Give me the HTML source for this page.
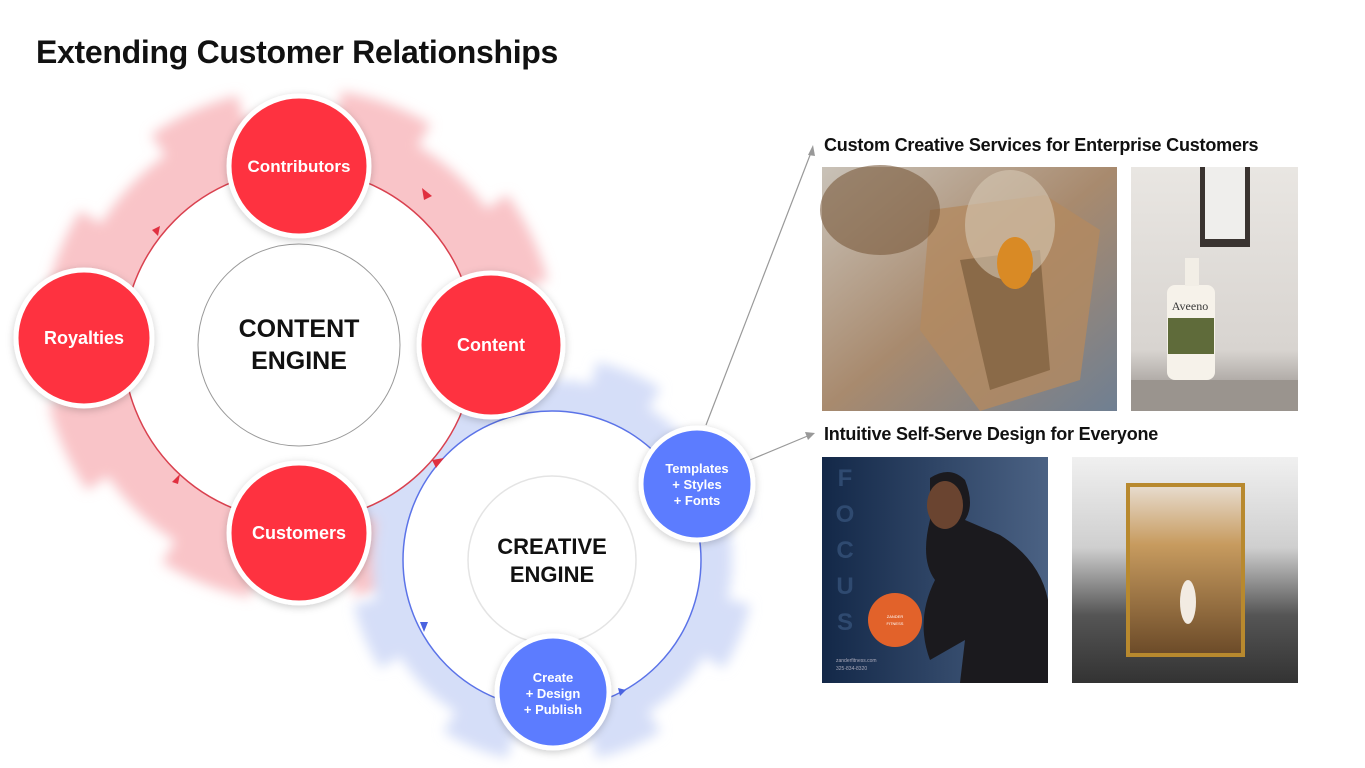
<!DOCTYPE html>
<html><head><meta charset="utf-8"><style>
body{margin:0;width:1365px;height:768px;background:#fff;position:relative;overflow:hidden;font-family:"Liberation Sans",sans-serif}
.t{position:absolute;font-weight:bold;color:#111}
</style></head><body>
<div class="t" style="left:36px;top:34px;font-size:32px;letter-spacing:-0.3px">Extending Customer Relationships</div>
<div class="t" style="left:824px;top:135px;font-size:18px;letter-spacing:-0.2px">Custom Creative Services for Enterprise Customers</div>
<div class="t" style="left:824px;top:424px;font-size:18px;letter-spacing:-0.2px">Intuitive Self-Serve Design for Everyone</div>
<svg width="1365" height="768" style="position:absolute;left:0;top:0">
<defs>
<filter id="b" x="-20%" y="-20%" width="140%" height="140%"><feGaussianBlur stdDeviation="6"/></filter>
<filter id="s" x="-30%" y="-30%" width="160%" height="160%"><feDropShadow dx="0" dy="2" stdDeviation="4" flood-color="#000" flood-opacity="0.2"/></filter>
<linearGradient id="g1" x1="0" y1="0" x2="1" y2="1"><stop offset="0" stop-color="#c9c2b8"/><stop offset="0.5" stop-color="#a88a6e"/><stop offset="1" stop-color="#6f7f92"/></linearGradient>
<linearGradient id="g2" x1="0" y1="0" x2="0" y2="1"><stop offset="0" stop-color="#e9e6e2"/><stop offset="0.75" stop-color="#d8d4d0"/><stop offset="1" stop-color="#8a8480"/></linearGradient>
<linearGradient id="g3" x1="0" y1="0" x2="1" y2="0"><stop offset="0" stop-color="#132848"/><stop offset="1" stop-color="#4b6284"/></linearGradient>
<linearGradient id="g4" x1="0" y1="0" x2="0" y2="1"><stop offset="0" stop-color="#f0f0f0"/><stop offset="0.4" stop-color="#cfcfcf"/><stop offset="0.7" stop-color="#555"/><stop offset="1" stop-color="#333"/></linearGradient>
<linearGradient id="g5" x1="0" y1="0" x2="0" y2="1"><stop offset="0" stop-color="#e8ddd0"/><stop offset="0.35" stop-color="#c79b5f"/><stop offset="1" stop-color="#6b4a28"/></linearGradient>
</defs>
<!-- red gear -->
<g filter="url(#b)">
<circle cx="299" cy="345" r="232" fill="#f9c4c8"/>
<circle cx="299" cy="345" r="242" fill="none" stroke="#f9c4c8" stroke-width="30" stroke-dasharray="90 98.5" stroke-dashoffset="-49.2"/>
</g>
<!-- blue gear -->
<g filter="url(#b)">
<circle cx="552" cy="560" r="180" fill="#d5def8"/>
<circle cx="552" cy="560" r="190" fill="none" stroke="#d5def8" stroke-width="26" stroke-dasharray="65 84.2" stroke-dashoffset="-42"/>
</g>
<circle cx="299" cy="345" r="176" fill="#fff" stroke="#d9414f" stroke-width="1.5"/>
<circle cx="552" cy="560" r="149" fill="#fff" stroke="#5b73e8" stroke-width="1.5"/>
<!-- ring arrows -->
<g fill="#e03040">
<polygon points="422,188 432,196 424,200" />
<polygon points="444,458 436,468 432,460"/>
<polygon points="172,482 180,474 178,484"/>
<polygon points="160,226 158,236 152,230"/>
</g>
<g fill="#4a63e0">
<polygon points="420,622 428,622 424,632"/>
<polygon points="618,688 626,690 620,696"/>
</g>
<!-- connectors -->
<line x1="706" y1="425" x2="812" y2="150" stroke="#999" stroke-width="1.2"/>
<polygon points="813,145 808,155 815,156" fill="#999"/>
<line x1="750" y1="460" x2="810" y2="435" stroke="#999" stroke-width="1.2"/>
<polygon points="815,433 805,432 808,440" fill="#999"/>
<!-- centers -->
<circle cx="299" cy="345" r="101" fill="#fff" stroke="#999" stroke-width="1"/>
<circle cx="552" cy="560" r="84" fill="#fff" stroke="#e4e4e4" stroke-width="1.5"/>
<!-- nodes -->
<g filter="url(#s)" stroke="#fff" stroke-width="5">
<circle cx="299" cy="166" r="70" fill="#fe3340"/>
<circle cx="84" cy="338" r="68" fill="#fe3340"/>
<circle cx="491" cy="345" r="72" fill="#fe3340"/>
<circle cx="299" cy="533" r="70" fill="#fe3340"/>
<circle cx="697" cy="484" r="56" fill="#5b7cff"/>
<circle cx="553" cy="692" r="56" fill="#5b7cff"/>
</g>
<g font-family="Liberation Sans,sans-serif" font-weight="bold" text-anchor="middle">
<text x="299" y="172" fill="#fff" font-size="17">Contributors</text>
<text x="84" y="344" fill="#fff" font-size="18">Royalties</text>
<text x="491" y="351" fill="#fff" font-size="18">Content</text>
<text x="299" y="539" fill="#fff" font-size="18">Customers</text>
<text x="299" y="337" fill="#111" font-size="25">CONTENT</text>
<text x="299" y="369" fill="#111" font-size="25">ENGINE</text>
<text x="552" y="554" fill="#111" font-size="22">CREATIVE</text>
<text x="552" y="582" fill="#111" font-size="22">ENGINE</text>
<text x="697" y="473" fill="#fff" font-size="13">Templates</text>
<text x="697" y="489" fill="#fff" font-size="13">+ Styles</text>
<text x="697" y="505" fill="#fff" font-size="13">+ Fonts</text>
<text x="553" y="682" fill="#fff" font-size="13">Create</text>
<text x="553" y="698" fill="#fff" font-size="13">+ Design</text>
<text x="553" y="714" fill="#fff" font-size="13">+ Publish</text>
</g>
<!-- photo 1 -->
<rect x="822" y="167" width="295" height="244" fill="url(#g1)"/>
<polygon points="930,210 1045,195 1100,230 1080,380 980,411 920,330" fill="#b38a60" opacity="0.8"/>
<polygon points="960,260 1040,250 1050,370 990,390" fill="#8a6a48"/>
<ellipse cx="1010" cy="225" rx="45" ry="55" fill="#d6c8b4" opacity="0.6"/>
<ellipse cx="880" cy="210" rx="60" ry="45" fill="#7a5a3c" opacity="0.6"/>
<ellipse cx="1015" cy="263" rx="18" ry="26" fill="#d98a25"/>
<!-- photo 2 -->
<rect x="1131" y="167" width="167" height="244" fill="url(#g2)"/>
<rect x="1200" y="167" width="50" height="80" fill="#3a3330"/>
<rect x="1205" y="167" width="40" height="72" fill="#efeeec"/>
<rect x="1167" y="285" width="48" height="95" rx="8" fill="#f6f2ea"/>
<rect x="1168" y="318" width="46" height="36" fill="#5f6b3a"/>
<rect x="1185" y="258" width="14" height="28" fill="#f2eee6"/>
<text x="1190" y="310" font-family="Liberation Serif,serif" font-size="12" fill="#3a3a3a" text-anchor="middle">Aveeno</text>
<rect x="1131" y="380" width="167" height="31" fill="#9a948e"/>
<!-- image 3 -->
<rect x="822" y="457" width="226" height="226" fill="url(#g3)"/>
<g font-family="Liberation Sans,sans-serif" font-weight="bold" font-size="24" fill="#2f4a70" text-anchor="middle">
<text x="845" y="486">F</text><text x="845" y="522">O</text><text x="845" y="558">C</text><text x="845" y="594">U</text><text x="845" y="630">S</text>
</g>
<path d="M930,478 Q950,465 965,480 Q975,505 965,520 L1000,535 Q1040,560 1048,600 L1048,683 L960,683 L965,640 L930,660 Q915,620 935,580 Q920,560 930,520 Z" fill="#1b1a1e"/>
<ellipse cx="945" cy="505" rx="18" ry="24" fill="#6a4430"/>
<circle cx="895" cy="620" r="27" fill="#e2622a"/>
<text x="895" y="618" font-size="4" fill="#fff" text-anchor="middle" font-family="Liberation Sans,sans-serif">ZANDER</text>
<text x="895" y="625" font-size="4" fill="#fff" text-anchor="middle" font-family="Liberation Sans,sans-serif">FITNESS</text>
<text x="836" y="662" font-size="5" fill="#aab" font-family="Liberation Sans,sans-serif">zanderfitness.com</text>
<text x="836" y="670" font-size="5" fill="#aab" font-family="Liberation Sans,sans-serif">325-834-8320</text>
<!-- image 4 -->
<rect x="1072" y="457" width="226" height="226" fill="url(#g4)"/>
<rect x="1128" y="485" width="115" height="170" fill="url(#g5)" stroke="#b8892e" stroke-width="4"/>
<ellipse cx="1188" cy="602" rx="8" ry="22" fill="#f2ebe2"/>
</svg>
</body></html>
